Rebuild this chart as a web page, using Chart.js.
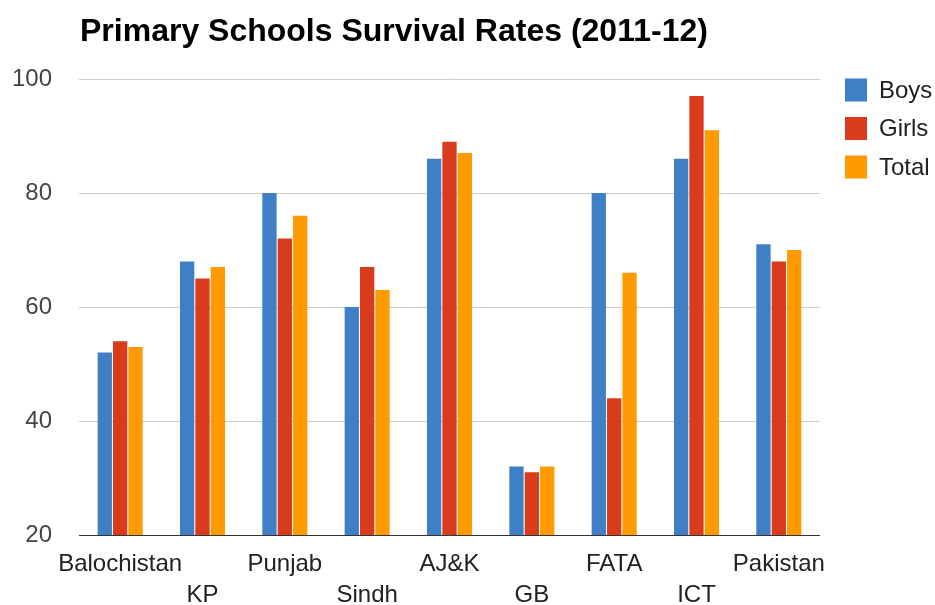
<!DOCTYPE html>
<html>
<head>
<meta charset="utf-8">
<title>Primary Schools Survival Rates (2011-12)</title>
<script src="https://cdn.jsdelivr.net/npm/chart.js@4.4.1/dist/chart.umd.min.js"></script>
<style>
  html, body { margin: 0; padding: 0; background: #ffffff; }
  #wrap { width: 935px; height: 605px; position: relative; }
</style>
</head>
<body>
<div id="wrap"><canvas id="chart" width="935" height="605"></canvas></div>
<script>
// Survival rates by region, 2011-12 (percent)
const regions = ['Balochistan', 'KP', 'Punjab', 'Sindh', 'AJ&K', 'GB', 'FATA', 'ICT', 'Pakistan'];
const boys  = [52, 68, 80, 60, 86, 32, 80, 86, 71];
const girls = [54, 65, 72, 67, 89, 31, 44, 97, 68];
const total = [53, 67, 76, 63, 87, 32, 66, 91, 70];
const yTicks = [20, 40, 60, 80, 100];

const titleText = 'Primary Schools Survival Rates (2011-12)';
const seriesNames = ['Boys', 'Girls', 'Total'];
const seriesColors = ['#3f7fc6', '#d83c1c', '#ff9a00'];
const FONT = '"Liberation Sans", Arial, Helvetica, sans-serif';

// Alternate category labels onto two rows so the long names don't collide
const staggered = regions.map((r, i) => (i % 2 === 0 ? [r, ''] : ['', r]));

// Title and legend drawn at fixed spots around the plot area
const decorations = {
  id: 'decorations',
  afterDraw(chart) {
    const ctx = chart.ctx;
    ctx.save();
    ctx.fillStyle = '#000000';
    ctx.font = 'bold 32px ' + FONT;
    ctx.textAlign = 'left';
    ctx.textBaseline = 'alphabetic';
    ctx.fillText(titleText, 80, 41);

    ctx.font = '24px ' + FONT;
    ctx.textBaseline = 'middle';
    seriesNames.forEach((name, i) => {
      const cy = 90 + i * 38.5;
      ctx.fillStyle = seriesColors[i];
      ctx.fillRect(845, cy - 11.5, 22, 23);
      ctx.fillStyle = '#222222';
      ctx.fillText(name, 879, cy + 1);
    });
    ctx.restore();
  }
};

new Chart(document.getElementById('chart'), {
  type: 'bar',
  data: {
    labels: staggered,
    datasets: [
      { label: seriesNames[0], data: boys,  backgroundColor: seriesColors[0] },
      { label: seriesNames[1], data: girls, backgroundColor: seriesColors[1] },
      { label: seriesNames[2], data: total, backgroundColor: seriesColors[2] }
    ]
  },
  options: {
    responsive: false,
    animation: false,
    layout: { padding: { left: 12, right: 115, top: 79, bottom: 0 } },
    datasets: {
      bar: { categoryPercentage: 0.56, barPercentage: 0.93, borderWidth: 0 }
    },
    plugins: {
      legend: { display: false },
      title: { display: false },
      tooltip: { enabled: false }
    },
    scales: {
      x: {
        grid: { display: false, drawTicks: false },
        border: { display: false },
        ticks: {
          color: '#222222',
          font: { family: FONT, size: 24, lineHeight: 1.29 },
          padding: 14,
          maxRotation: 0,
          autoSkip: false
        },
        afterFit(axis) {
          axis.height = 70;
          // let the outer labels hang past the plot edges
          axis.paddingLeft = 0;
          axis.paddingRight = 0;
        }
      },
      y: {
        min: 20,
        max: 100,
        afterBuildTicks(axis) { axis.ticks = yTicks.map(v => ({ value: v })); },
        grid: {
          drawTicks: false,
          lineWidth: 1,
          color: ctx => (ctx.tick && ctx.tick.value === 20 ? '#333333' : '#cccccc')
        },
        border: { display: false },
        ticks: {
          color: '#444444',
          font: { family: FONT, size: 24 },
          padding: 27
        },
        afterFit(axis) { axis.width = 67; }
      }
    }
  },
  plugins: [decorations]
});
</script>
</body>
</html>
